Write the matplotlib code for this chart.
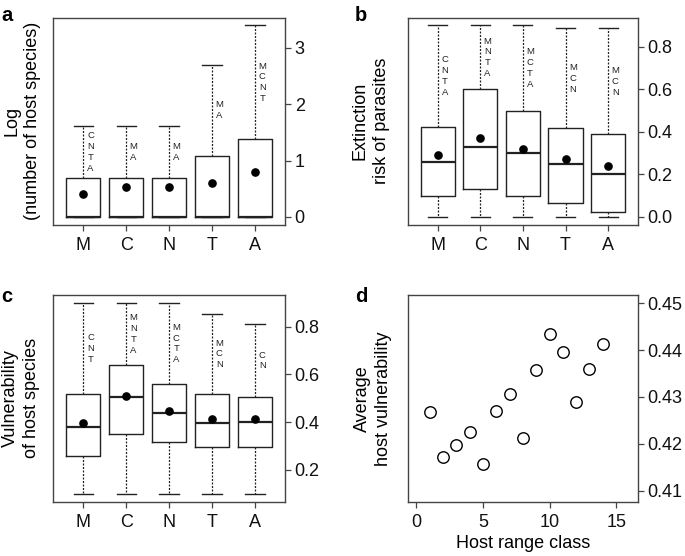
import matplotlib
matplotlib.use('Agg')
import matplotlib.pyplot as plt

plt.rcParams['font.family'] = ['Liberation Sans', 'DejaVu Sans']

groups = ['M', 'C', 'N', 'T', 'A']

# Panel a: Log(number of host species)
a_lo = [0, 0, 0, 0, 0]
a_q1 = [0, 0, 0, 0, 0]
a_med = [0, 0, 0, 0, 0]
a_q3 = [0.70, 0.70, 0.70, 1.09, 1.38]
a_hi = [1.61, 1.61, 1.61, 2.70, 3.40]
a_mean = [0.41, 0.53, 0.54, 0.61, 0.80]
a_sig = ['CNTA', 'MA', 'MA', 'MA', 'MCNT']

# Panel b: Extinction risk of parasites
b_lo = [0, 0, 0, 0, 0]
b_q1 = [0.099, 0.13, 0.099, 0.064, 0.022]
b_med = [0.26, 0.33, 0.30, 0.25, 0.20]
b_q3 = [0.424, 0.60, 0.50, 0.416, 0.388]
b_hi = [0.90, 0.90, 0.90, 0.886, 0.886]
b_mean = [0.29, 0.372, 0.318, 0.272, 0.241]
b_sig = ['CNTA', 'MNTA', 'MCTA', 'MCN', 'MCN']

# Panel c: Vulnerability of host species
c_lo = [0.10, 0.10, 0.10, 0.10, 0.10]
c_q1 = [0.259, 0.350, 0.317, 0.298, 0.298]
c_med = [0.379, 0.507, 0.438, 0.398, 0.403]
c_q3 = [0.519, 0.640, 0.559, 0.519, 0.505]
c_hi = [0.90, 0.90, 0.90, 0.853, 0.812]
c_mean = [0.398, 0.51, 0.447, 0.414, 0.413]
c_sig = ['CNT', 'MNTA', 'MCTA', 'MCN', 'CN']

# Panel d: Average host vulnerability vs host range class
d_x = [1, 2, 3, 4, 5, 6, 7, 8, 9, 10, 11, 12, 13, 14]
d_y = [0.4267, 0.4173, 0.4198, 0.4225, 0.4157, 0.4270, 0.4307,
       0.4212, 0.4357, 0.4434, 0.4396, 0.4289, 0.4360, 0.4412]

# y-axis label lines per panel
a_ylabel = ['Log', '(number of host species)']
b_ylabel = ['Extinction', 'risk of parasites']
c_ylabel = ['Vulnerability', 'of host species']
d_ylabel = ['Average', 'host vulnerability']
d_xlabel = 'Host range class'

LC = '#222222'
W, H = 685, 556
fig = plt.figure(figsize=(W / 100, H / 100), dpi=100)

L1, R1 = 0.0778, 0.416
L2, R2 = 0.5952, 0.9314
B1, T1 = 0.596, 0.968
B2, T2 = 0.098, 0.469

axa = fig.add_axes([L1, B1, R1 - L1, T1 - B1])
axb = fig.add_axes([L2, B1, R2 - L2, T1 - B1])
axc = fig.add_axes([L1, B2, R1 - L1, T2 - B2])
axd = fig.add_axes([L2, B2, R2 - L2, T2 - B2])


def style(ax):
    for s in ax.spines.values():
        s.set_color('#444444')
        s.set_linewidth(1.0)
    ax.yaxis.tick_right()
    ax.tick_params(axis='both', direction='out', length=4, width=0.9,
                   color='#444444', labelsize=13, labelcolor='#111111')
    ax.tick_params(axis='x', pad=5)
    ax.tick_params(axis='y', pad=3)


def boxpanel(ax, lo, q1, med, q3, hi, mean, sig, ylim, yticks, yticklabels):
    stats = []
    for i in range(len(groups)):
        stats.append(dict(whislo=lo[i], q1=q1[i], med=med[i], q3=q3[i],
                          whishi=hi[i], mean=mean[i], fliers=[]))
    pos = list(range(1, len(groups) + 1))
    ax.bxp(stats, positions=pos, widths=0.8, capwidths=0.45,
           showmeans=True, showfliers=False,
           boxprops=dict(color=LC, linewidth=1.0),
           whiskerprops=dict(color=LC, linewidth=0.9, linestyle=(0, (1.6, 1.2))),
           capprops=dict(color=LC, linewidth=1.0),
           medianprops=dict(color=LC, linewidth=1.6),
           meanprops=dict(marker='o', markerfacecolor='black',
                          markeredgecolor='black', markersize=5.2))
    for i in range(len(groups)):
        ymid = (q3[i] + hi[i]) / 2
        ax.text(pos[i] + 0.17, ymid, '\n'.join(sig[i]), fontsize=6.8,
                ha='center', va='center', linespacing=1.25, color='#222222')
    ax.set_xlim(0.3, 5.7)
    ax.set_ylim(*ylim)
    ax.set_xticks(pos)
    ax.set_xticklabels(groups, fontsize=14)
    ax.set_yticks(yticks)
    ax.set_yticklabels(yticklabels)
    style(ax)


boxpanel(axa, a_lo, a_q1, a_med, a_q3, a_hi, a_mean, a_sig,
         (-0.136, 3.536), [0, 1, 2, 3], ['0', '1', '2', '3'])
boxpanel(axb, b_lo, b_q1, b_med, b_q3, b_hi, b_mean, b_sig,
         (-0.036, 0.936), [0, 0.2, 0.4, 0.6, 0.8], ['0.0', '0.2', '0.4', '0.6', '0.8'])
boxpanel(axc, c_lo, c_q1, c_med, c_q3, c_hi, c_mean, c_sig,
         (0.068, 0.932), [0.2, 0.4, 0.6, 0.8], ['0.2', '0.4', '0.6', '0.8'])

axd.scatter(d_x, d_y, s=68, facecolors='white', edgecolors='black', linewidths=1.0, zorder=3)
axd.set_xlim(-0.64, 16.64)
axd.set_ylim(0.4077, 0.4517)
axd.set_xticks([0, 5, 10, 15])
axd.set_yticks([0.41, 0.42, 0.43, 0.44, 0.45])
axd.set_yticklabels(['0.41', '0.42', '0.43', '0.44', '0.45'])
style(axd)
axd.set_xlabel(d_xlabel, fontsize=13, labelpad=3)


def ylabel_lines(lines, xs_px, yc):
    for txt, xp in zip(lines, xs_px):
        fig.text(xp / W, yc, txt, rotation=90, fontsize=13,
                 ha='center', va='center', color='black')


ylabel_lines(a_ylabel, [12.5, 32.5], (B1 + T1) / 2)
ylabel_lines(b_ylabel, [360, 381], (B1 + T1) / 2)
ylabel_lines(c_ylabel, [10.5, 31.5], (B2 + T2) / 2)
ylabel_lines(d_ylabel, [362, 383], (B2 + T2) / 2)

for lab, x, y in [('a', 0.002, 0.99), ('b', 0.518, 0.99), ('c', 0.002, 0.483), ('d', 0.518, 0.483)]:
    fig.text(x, y, lab, fontsize=14.5, fontweight='bold', ha='left', va='top')

fig.savefig('out.png', dpi=100)
